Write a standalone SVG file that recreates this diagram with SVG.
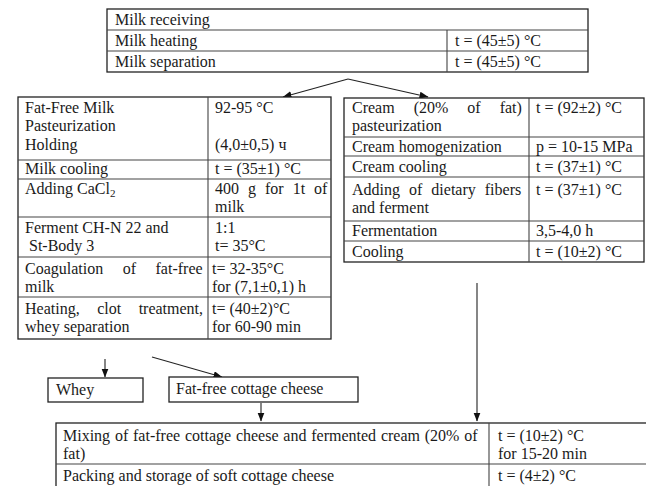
<svg xmlns="http://www.w3.org/2000/svg" width="646" height="486" viewBox="0 0 646 486">
<style>
text{font-family:"Liberation Serif","Times New Roman",serif;font-size:16px;fill:#1a1a1a}
.box{fill:#fff;stroke:#222;stroke-width:1.3}
.ln{stroke:#444;stroke-width:1.1;fill:none}
.con{stroke:#222;stroke-width:1.1;fill:none;marker-end:url(#ah)}
</style>
<defs>
<marker id="ah" markerUnits="userSpaceOnUse" markerWidth="9" markerHeight="8" refX="8.5" refY="3.5" orient="auto">
<path d="M0,0 L9,3.5 L0,7 z" fill="#111"/>
</marker>
</defs>
<rect width="646" height="486" fill="#fff"/>

<g id="connectors">
<path class="con" d="M348,79 L283,97"/>
<path class="con" d="M348,79 L428,97"/>
<path class="con" d="M105,359 L105,377"/>
<path class="con" d="M152,357 L222,377"/>
<path class="con" d="M261,403 L261,421"/>
<path class="con" d="M477,283 L477,421"/>
</g>

<g id="top-table">
<rect class="box" x="107" y="9" width="481" height="63"/>
<path class="ln" d="M107,30 H588 M107,51 H588 M447,30 V72"/>
<text x="115" y="25">Milk receiving</text>
<text x="115" y="46">Milk heating</text>
<text x="455" y="46">t = (45±5) °C</text>
<text x="115" y="67">Milk separation</text>
<text x="455" y="67">t = (45±5) °C</text>
</g>

<g id="left-table">
<rect class="box" x="18" y="97" width="313" height="242"/>
<path class="ln" d="M18,160 H331 M18,179 H331 M18,217 H331 M18,257 H331 M18,297 H331 M208,97 V339"/>
<text x="25" y="113">Fat-Free Milk</text>
<text x="25" y="131">Pasteurization</text>
<text x="25" y="150">Holding</text>
<text x="215" y="113">92-95 °C</text>
<text x="215" y="150">(4,0±0,5) ч</text>
<text x="25" y="174">Milk cooling</text>
<text x="215" y="174">t = (35±1) °C</text>
<text x="25" y="194">Adding CaCl<tspan font-size="11" dy="3">2</tspan></text>
<text x="215" y="194" word-spacing="5">400 g for 1t of</text>
<text x="215" y="212">milk</text>
<text x="25" y="233">Ferment CH-N 22 and</text>
<text x="29" y="251">St-Body 3</text>
<text x="215" y="233">1:1</text>
<text x="215" y="251">t= 35°C</text>
<text x="25" y="274" word-spacing="15.5">Coagulation of fat-free</text>
<text x="25" y="292">milk</text>
<text x="212" y="274">t= 32-35°C</text>
<text x="212" y="292">for (7,1±0,1) h</text>
<text x="25" y="314" word-spacing="13.5">Heating, clot treatment,</text>
<text x="25" y="332">whey separation</text>
<text x="212" y="314">t= (40±2)°C</text>
<text x="212" y="332">for 60-90 min</text>
</g>

<g id="right-table">
<rect class="box" x="344" y="98" width="300" height="164"/>
<path class="ln" d="M344,137 H644 M344,156 H644 M344,177 H644 M344,221 H644 M344,241 H644 M529,98 V262"/>
<text x="352" y="113" word-spacing="15">Cream (20% of fat)</text>
<text x="352" y="131">pasteurization</text>
<text x="536" y="113">t = (92±2) °C</text>
<text x="352" y="152">Cream homogenization</text>
<text x="536" y="152">p = 10-15 MPa</text>
<text x="352" y="172">Cream cooling</text>
<text x="536" y="172">t = (37±1) °C</text>
<text x="352" y="195" word-spacing="5">Adding of dietary fibers</text>
<text x="352" y="213">and ferment</text>
<text x="536" y="195">t = (37±1) °C</text>
<text x="352" y="236">Fermentation</text>
<text x="536" y="236">3,5-4,0 h</text>
<text x="352" y="257">Cooling</text>
<text x="536" y="257">t = (10±2) °C</text>
</g>

<g id="whey">
<rect class="box" x="48" y="378" width="95" height="24"/>
<text x="56" y="395">Whey</text>
</g>

<g id="fat-free-cottage-cheese">
<rect class="box" x="169" y="377" width="189" height="25"/>
<text x="176" y="394">Fat-free cottage cheese</text>
</g>

<g id="bottom-table">
<rect class="box" x="56" y="423" width="600" height="80"/>
<path class="ln" d="M56,464 H646 M489,423 V486"/>
<text x="63" y="441" word-spacing="0.8">Mixing of fat-free cottage cheese and fermented cream (20% of</text>
<text x="63" y="459">fat)</text>
<text x="498" y="441">t = (10±2) °C</text>
<text x="498" y="459">for 15-20 min</text>
<text x="63" y="481">Packing and storage of soft cottage cheese</text>
<text x="498" y="481">t = (4±2) °C</text>
</g>
</svg>
